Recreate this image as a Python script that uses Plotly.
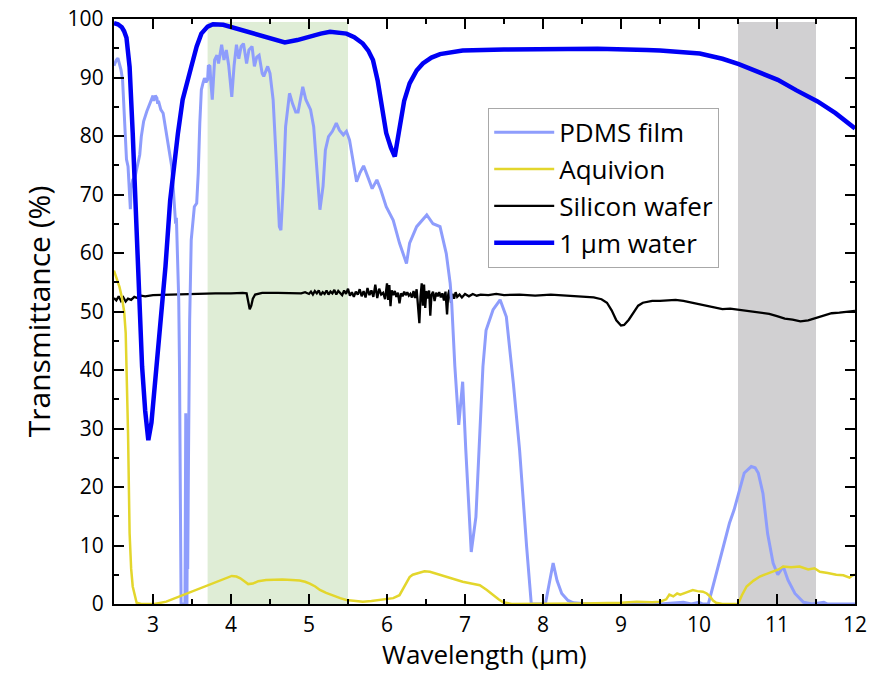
import plotly.graph_objects as go

# ---------------- data ----------------
pdms_x = [2.50, 2.53, 2.55, 2.57, 2.59, 2.61, 2.63, 2.64, 2.66, 2.68, 2.70, 2.71, 2.72, 2.74, 2.77, 2.79, 2.81, 2.83,
          2.85, 2.88, 2.92, 2.95, 2.98, 3.00, 3.01, 3.03, 3.05, 3.06, 3.07, 3.10, 3.13, 3.16, 3.19, 3.22, 3.24, 3.26,
          3.28, 3.29, 3.30, 3.31, 3.32, 3.33, 3.34, 3.35, 3.36, 3.38, 3.40, 3.41, 3.42, 3.425, 3.43, 3.435, 3.44,
          3.445, 3.455, 3.465, 3.47, 3.49, 3.51, 3.53, 3.56, 3.58, 3.60, 3.62, 3.64, 3.66, 3.68, 3.70, 3.71, 3.73,
          3.74, 3.76, 3.79, 3.82, 3.84, 3.88, 3.91, 3.94, 3.97, 4.01, 4.04, 4.07, 4.10, 4.13, 4.16, 4.20, 4.23, 4.27,
          4.30, 4.33, 4.36, 4.40, 4.42, 4.47, 4.50, 4.54, 4.58, 4.62, 4.64, 4.67, 4.70, 4.75, 4.79, 4.83, 4.86, 4.92,
          4.96, 5.02, 5.06, 5.10, 5.14, 5.18, 5.21, 5.25, 5.30, 5.35, 5.39, 5.44, 5.48, 5.52, 5.57, 5.61, 5.65, 5.70,
          5.76, 5.81, 5.87, 5.92, 5.99, 6.08, 6.16, 6.25, 6.29, 6.38, 6.51, 6.59, 6.68, 6.76, 6.81, 6.83, 6.87, 6.92,
          6.97, 7.01, 7.08, 7.14, 7.19, 7.23, 7.27, 7.36, 7.45, 7.53, 7.62, 7.70, 7.79, 7.85, 8.03, 8.08, 8.13, 8.18,
          8.24, 8.32, 8.39, 8.6, 9.0, 9.5, 9.8, 9.9, 10.0, 10.05, 10.12, 10.20, 10.31, 10.39, 10.45, 10.52, 10.58,
          10.67, 10.72, 10.76, 10.82, 10.88, 10.95, 11.01, 11.08, 11.14, 11.23, 11.34, 11.45, 11.6, 11.65, 12.0]
pdms_y = [92.0, 93.0, 93.3, 92.2, 91.3, 89.6, 84.0, 79.3, 76.0, 74.8, 69.1, 67.5, 71.0, 72.5, 73.0, 74.5, 75.9, 76.8,
          79.9, 82.5, 84.2, 85.3, 86.2, 86.9, 86.0, 86.9, 86.5, 85.5, 86.0, 84.5, 83.9, 81.5, 79.3, 77.0, 74.8, 71.0,
          67.9, 65.0, 66.0, 62.0, 57.7, 52.0, 40.0, 15.0, 0.0, 0.0, 0.0, 0.0, 32.6, 8.0, 0.0, 0.0, 13.0,
          6.0, 25.0, 42.0, 48.5, 62.2, 65.5, 67.9, 68.5, 73.6, 82.2, 87.9, 89.0, 89.9, 89.2, 89.6, 92.1, 91.9,
          89.6, 86.2, 93.0, 93.8, 92.4, 95.6, 93.0, 94.7, 92.1, 86.7, 92.1, 95.6, 93.2, 95.3, 95.8, 92.4, 94.7, 95.3,
          91.9, 93.5, 93.8, 90.7, 90.2, 91.9, 90.7, 86.2, 75.9, 64.5, 63.9, 71.4, 81.6, 87.3, 85.5, 84.1, 84.1, 88.4,
          86.2, 84.5, 81.6, 74.8, 67.4, 71.4, 77.6, 79.9, 80.8, 82.2, 81.0, 80.2, 80.8, 79.3, 75.3, 72.2, 73.6, 74.9,
          72.8, 71.0, 72.5, 70.8, 67.9, 65.6, 61.7, 58.2, 61.7, 64.5, 66.5, 65.0, 64.5, 59.9, 54.8, 51.3, 40.6, 30.6,
          38.0, 26.4, 8.9, 14.9, 29.2, 40.6, 46.8, 50.3, 52.0, 49.1, 37.7, 26.3, 9.8, 0.0, 0.0, 3.5, 7.0, 4.0,
          1.8, 0.6, 0.2, 0.0, 0.0, 0.0, 0.3, 0.0, 0.3, 0.0, 0.0, 4.1, 9.8, 13.8, 16.1, 19.5, 22.4,
          23.5, 23.3, 22.4, 18.9, 12.0, 7.0, 5.0, 6.4, 4.1, 1.8, 0.3, 0.0, 0.3, 0.0, 0.0]

aqui_x = [2.50, 2.53, 2.57, 2.60, 2.63, 2.65, 2.68, 2.70, 2.72, 2.74, 2.77, 2.79, 2.85, 3.02, 3.17, 3.38, 3.60, 3.81,
          3.95, 4.01, 4.07, 4.12, 4.18, 4.22, 4.28, 4.35, 4.45, 4.55, 4.66, 4.78, 4.88, 4.95, 5.01, 5.08, 5.14, 5.22,
          5.31, 5.40, 5.48, 5.58, 5.69, 5.80, 5.95, 6.08, 6.16, 6.20, 6.25, 6.29, 6.33, 6.40, 6.48, 6.55, 6.62, 6.70,
          6.76, 6.85, 6.97, 7.08, 7.19, 7.28, 7.36, 7.43, 7.49, 7.6, 8.5, 9.0, 9.2, 9.4, 9.5, 9.58, 9.62, 9.67, 9.72,
          9.76, 9.84, 9.92, 9.98, 10.05, 10.10, 10.14, 10.18, 10.22, 10.3, 10.5, 10.55, 10.61, 10.70, 10.78, 10.86,
          10.95, 11.02, 11.08, 11.18, 11.29, 11.40, 11.48, 11.55, 11.65, 11.76, 11.85, 11.93, 11.97, 12.0]
aqui_y = [57.0, 55.8, 54.2, 52.5, 50.0, 46.3, 29.2, 12.1, 6.0, 3.0, 1.0, 0.2, 0.0, 0.0, 0.4, 1.5, 2.7, 3.8,
          4.6, 4.8, 4.7, 4.4, 3.8, 3.4, 3.5, 3.9, 4.1, 4.2, 4.2, 4.1, 4.0, 3.8, 3.5, 3.0, 2.4, 1.9,
          1.4, 1.0, 0.7, 0.5, 0.4, 0.5, 0.7, 1.0, 1.5, 2.5, 3.6, 4.6, 5.0, 5.3, 5.6, 5.5, 5.2, 4.9,
          4.7, 4.3, 3.8, 3.5, 3.2, 2.4, 1.5, 0.8, 0.3, 0.0, 0.1, 0.2, 0.4, 0.3, 0.4, 0.8, 1.6, 1.3, 1.8,
          1.6, 2.0, 2.4, 2.2, 2.1, 1.8, 1.3, 0.6, 0.2, 0.0, 0.0, 1.5, 3.0, 4.0, 4.7, 5.1,
          5.5, 5.9, 6.4, 6.3, 6.4, 5.9, 6.1, 5.5, 5.3, 5.0, 4.9, 4.5, 4.9, 5.0]

si_x = [2.50, 2.53, 2.56, 2.59, 2.62, 2.65, 2.68, 2.72, 2.76, 2.80, 2.85, 2.90, 3.00, 3.20, 3.40, 3.60, 3.80, 4.00,
        4.15, 4.20, 4.22, 4.24, 4.26, 4.28, 4.31, 4.40, 4.60, 4.80, 4.90, 4.95,
        5.000, 5.025, 5.050, 5.075, 5.100, 5.125, 5.150, 5.175, 5.200, 5.225, 5.250, 5.275, 5.300, 5.325, 5.350,
        5.375, 5.400, 5.425, 5.450, 5.475, 5.500, 5.525, 5.550, 5.575, 5.600, 5.625, 5.650, 5.675, 5.700, 5.725,
        5.750, 5.775, 5.800, 5.825, 5.850, 5.875, 5.900, 5.925, 5.950, 5.975, 6.000, 6.015, 6.030, 6.045, 6.060,
        6.080, 6.100, 6.120, 6.140, 6.160, 6.180, 6.200, 6.220, 6.240, 6.260, 6.280, 6.300, 6.320, 6.340, 6.360,
        6.380, 6.400, 6.415, 6.430, 6.445, 6.460, 6.475, 6.490, 6.505, 6.520, 6.540, 6.555, 6.570, 6.590, 6.610,
        6.630, 6.650, 6.670, 6.690, 6.710, 6.730, 6.750, 6.770, 6.785, 6.800, 6.820, 6.840, 6.860, 6.880, 6.900,
        6.930, 6.960, 7.00, 7.05, 7.10, 7.15, 7.20, 7.30, 7.40, 7.50, 7.70, 7.90, 8.10, 8.30, 8.50, 8.65, 8.75,
        8.82, 8.88, 8.94, 9.00, 9.04, 9.10, 9.16, 9.22, 9.28, 9.40, 9.50, 9.60, 9.70, 9.80, 9.90, 10.0, 10.1,
        10.2, 10.3, 10.4, 10.5, 10.6, 10.7, 10.8, 10.9, 11.0, 11.1, 11.2, 11.3, 11.4, 11.5, 11.6, 11.7, 11.8,
        11.9, 12.0]
si_y = [52.3, 51.9, 52.6, 51.8, 52.4, 51.7, 52.2, 52.0, 52.5, 52.3, 52.7, 52.6, 52.8, 52.9, 53.0, 53.0, 53.1, 53.1,
        53.2, 53.1, 51.5, 50.4, 51.0, 52.2, 52.9, 53.2, 53.2, 53.2, 53.1, 53.3,
        53.0, 53.4, 52.9, 53.5, 53.1, 53.6, 52.8, 53.3, 53.0, 53.6, 52.9, 53.4, 53.1, 53.7, 52.9,
        53.5, 53.2, 52.8, 53.6, 53.0, 53.9, 52.7, 53.3, 52.5, 53.4, 52.9, 53.8, 52.6, 53.5, 52.4,
        54.0, 52.8, 53.6, 52.5, 54.6, 52.3, 53.9, 52.9, 53.2, 52.1, 54.8, 52.0, 54.5, 50.9, 53.6,
        52.8, 53.5, 52.5, 53.2, 51.4, 53.1, 52.6, 53.4, 52.8, 53.3, 52.7, 53.0, 52.4, 53.5, 52.3,
        53.8, 51.2, 48.0, 52.6, 54.8, 51.0, 54.6, 50.6, 53.5, 52.2, 53.6, 49.3, 52.8, 53.4, 51.8,
        53.2, 52.6, 53.3, 52.4, 53.1, 51.9, 53.4, 49.5, 52.9, 53.7, 51.5, 53.0, 52.2, 53.3, 52.5,
        52.9, 52.4, 53.0, 52.6, 53.0, 52.7, 52.9, 52.8, 53.0, 52.8, 52.9, 52.7, 52.9, 52.7, 52.6, 52.4, 52.1,
        51.5, 50.2, 48.5, 47.6, 47.7, 48.6, 49.9, 51.0, 51.5, 51.8, 51.8, 51.9, 52.0, 51.8, 51.5, 51.2, 51.0,
        50.7, 50.4, 50.5, 50.3, 50.2, 49.9, 49.7, 49.6, 49.2, 48.8, 48.6, 48.3, 48.5, 48.9, 49.3, 49.7, 49.8,
        50.0, 50.1]

water_x = [2.50, 2.55, 2.60, 2.63, 2.66, 2.70, 2.74, 2.79, 2.82, 2.86, 2.90, 2.94, 2.98, 3.01, 3.05, 3.10, 3.13,
           3.16, 3.22, 3.27, 3.32, 3.38, 3.44, 3.49, 3.56, 3.62, 3.70, 3.77, 3.90, 4.03, 4.20, 4.33, 4.50, 4.69,
           4.85, 5.00, 5.15, 5.27, 5.40, 5.48, 5.58, 5.69, 5.76, 5.82, 5.88, 5.94, 5.99, 6.05, 6.10, 6.15, 6.22,
           6.29, 6.38, 6.46, 6.57, 6.68, 6.85, 6.97, 7.50, 8.04, 8.70, 9.33, 9.50, 10.01, 10.30, 10.51, 10.75,
           11.01, 11.25, 11.52, 11.75, 12.0]
water_y = [99.3, 99.1, 98.6, 97.9, 96.8, 91.8, 80.5, 63.4, 52.0, 40.6, 33.0, 28.0, 31.0, 35.5, 40.6, 48.5, 52.5,
           57.7, 69.0, 75.5, 80.5, 86.2, 89.6, 91.8, 95.3, 97.5, 98.7, 99.1, 99.0, 98.5, 97.9, 97.3, 96.6, 96.0,
           96.4, 97.0, 97.5, 97.8, 97.7, 97.5, 96.9, 95.8, 94.6, 93.0, 89.5, 84.5, 80.5, 78.0, 76.5, 80.5, 86.0,
           89.0, 91.2, 92.4, 93.4, 94.0, 94.4, 94.6, 94.8, 94.9, 94.9, 94.7, 94.6, 94.1, 93.2, 92.3, 91.0,
           89.6, 87.8, 85.9, 83.9, 81.3]

green_band = [3.7, 5.5]
gray_band = [10.5, 11.5]

FONT = "Open Sans"

fig = go.Figure()

fig.add_shape(type="rect", xref="x", yref="y", x0=green_band[0], x1=green_band[1], y0=0, y1=99.5,
              fillcolor="#DFEDD6", line_width=0, layer="below")
fig.add_shape(type="rect", xref="x", yref="y", x0=gray_band[0], x1=gray_band[1], y0=0, y1=99.5,
              fillcolor="#D1D0D2", line_width=0, layer="below")

fig.add_trace(go.Scatter(x=si_x, y=si_y, mode="lines", name="Silicon wafer", legendrank=3,
                         line=dict(color="#000000", width=2.3)))
fig.add_trace(go.Scatter(x=pdms_x, y=pdms_y, mode="lines", name="PDMS film", legendrank=1,
                         line=dict(color="#8E9DFC", width=3)))
fig.add_trace(go.Scatter(x=aqui_x, y=aqui_y, mode="lines", name="Aquivion", legendrank=2,
                         line=dict(color="#E3D62C", width=2.5)))
fig.add_trace(go.Scatter(x=water_x, y=water_y, mode="lines", name="1 µm water", legendrank=4,
                         line=dict(color="#0000F5", width=4.5)))

axis_common = dict(
    showline=True, linecolor="black", linewidth=2.3, mirror="allticks",
    ticks="inside", ticklen=10, tickwidth=2, tickcolor="black",
    showgrid=False, zeroline=False, automargin=False,
    tickfont=dict(family=FONT, size=21, color="black"),
)

fig.update_xaxes(range=[2.5, 12], tick0=3, dtick=1, ticklabelstandoff=1,
                 minor=dict(ticks="inside", ticklen=5, tickwidth=1.5, tickcolor="black", dtick=0.5, tick0=2.5),
                 **axis_common)
fig.update_yaxes(range=[0, 100], tick0=0, dtick=10, ticklabelstandoff=4,
                 minor=dict(ticks="inside", ticklen=5, tickwidth=1.5, tickcolor="black", dtick=5),
                 title=dict(text="Transmittance (%)", font=dict(family=FONT, size=30, color="black"), standoff=8),
                 **axis_common)

# x-axis title placed as a paper annotation, bottom-anchored just above the page edge
fig.add_annotation(text="Wavelength (µm)", xref="paper", yref="paper", x=0.5, y=-0.1205,
                   xanchor="center", yanchor="bottom", showarrow=False,
                   font=dict(family=FONT, size=26, color="black"))

fig.update_layout(
    width=886, height=676,
    margin=dict(l=114, r=31, t=19, b=72, autoexpand=False),
    paper_bgcolor="white", plot_bgcolor="white",
    font=dict(family=FONT, color="black"),
    legend=dict(x=0.505, y=0.848, xanchor="left", yanchor="top",
                bgcolor="white", bordercolor="#A8A8A8", borderwidth=1,
                font=dict(family=FONT, size=26, color="black"),
                itemwidth=60, tracegroupgap=0),
    showlegend=True,
)

fig.write_html("out.html")
